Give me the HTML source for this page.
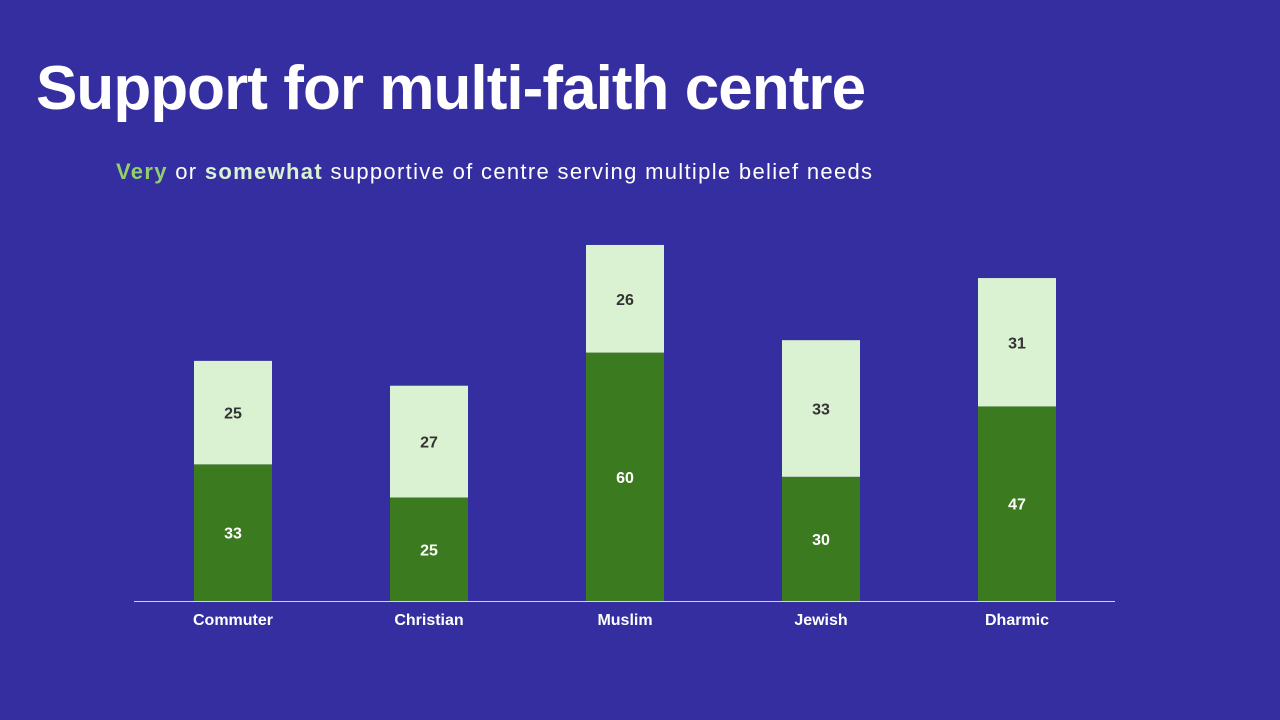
<!DOCTYPE html>
<html><head><meta charset="utf-8"><style>
body{margin:0;width:1280px;height:720px;background:#352ea0;overflow:hidden;font-family:"Liberation Sans",sans-serif;position:relative}
#title{position:absolute;left:36px;top:53px;color:#fff;font-weight:bold;font-size:62px;letter-spacing:-0.95px;margin:0}
#sub{position:absolute;left:116px;top:159px;color:#fff;font-size:22px;letter-spacing:1.32px}
svg{position:absolute;left:0;top:0}
</style></head><body>
<h1 id="title">Support for multi-faith centre</h1>
<div id="sub"><b style="color:#8fd16a">Very</b> or <b style="color:#dbf2d2">somewhat</b> supportive of centre serving multiple belief needs</div>
<svg id="chart" width="1280" height="720"></svg>
<script>
const categories=["Commuter","Christian","Muslim","Jewish","Dharmic"];
const veryValues=[33,25,60,30,47];
const somewhatValues=[25,27,26,33,31];
const svg=document.getElementById('chart');
const NS='http://www.w3.org/2000/svg';
const base=601,scale=4.14,x0=233,step=196,bw=78;
function y(v){return base-v*scale;}
function xc(i){return x0+i*step;}
function mk(t,a){const e=document.createElementNS(NS,t);for(const k in a)e.setAttribute(k,a[k]);svg.appendChild(e);return e;}
categories.forEach((c,i)=>{
  const v=veryValues[i],s=somewhatValues[i];
  const r1=mk('rect',{x:xc(i)-bw/2,y:y(v),width:bw,height:v*scale,fill:'#3b7a1f'});
  
  
  const r2=mk('rect',{x:xc(i)-bw/2,y:y(v+s),width:bw,height:s*scale,fill:'#dbf2d2'});
  
  
  const t1=mk('text',{x:xc(i),y:(y(0)+y(v))/2+6,'text-anchor':'middle',fill:'#fff','font-size':16,'font-weight':'bold'});
  t1.textContent=v;
  
  
  const t2=mk('text',{x:xc(i),y:(y(v)+y(v+s))/2+6,'text-anchor':'middle',fill:'#333','font-size':16,'font-weight':'bold'});
  t2.textContent=s;
  
  
  const t3=mk('text',{x:xc(i),y:625,'text-anchor':'middle',fill:'#fff','font-size':16,'font-weight':'bold'});
  t3.textContent=c;
  
  
});
const ax=mk('line',{x1:134,x2:1115,y1:base+0.5,y2:base+0.5,stroke:'#d0d0e8','stroke-width':1});


</script>
</body></html>
